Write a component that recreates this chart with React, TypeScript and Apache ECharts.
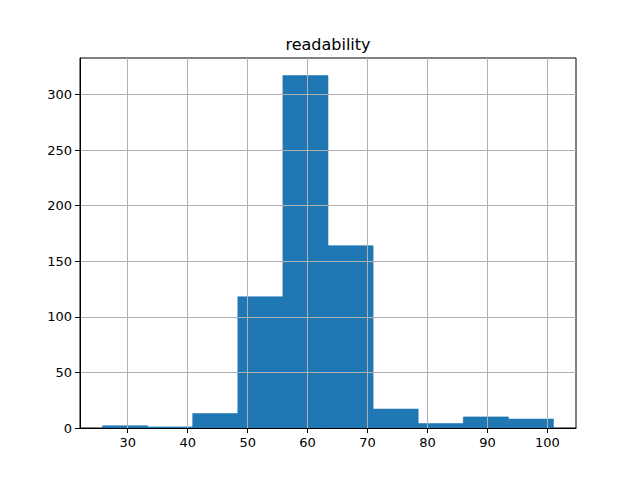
import React, { useEffect, useRef } from "react";
import * as echarts from "echarts";

const title = "readability";
const binEdges = [25.8, 33.32, 40.84, 48.36, 55.88, 63.4, 70.92, 78.44, 85.96, 93.48, 101.0];
const counts = [2, 1, 13, 118, 317, 164, 17, 4, 10, 8];
const xTicks = [30, 40, 50, 60, 70, 80, 90, 100];
const yTicks = [0, 50, 100, 150, 200, 250, 300];

export default function App() {
  const ref = useRef<HTMLDivElement>(null);
  useEffect(() => {
    document.body.style.margin = "0";
    const chart = echarts.init(ref.current!, null, { renderer: "svg" });
    const span = binEdges[binEdges.length - 1] - binEdges[0];
    const xMin = binEdges[0] - span * 0.05;
    const xMax = binEdges[binEdges.length - 1] + span * 0.05;
    const yMax = Math.max(...counts) * 1.05;
    const data = counts.map((c, i) => [binEdges[i], binEdges[i + 1], c]);
    const font = "DejaVu Sans";
    chart.setOption({
      animation: false,
      graphic: [
        {
          type: "text",
          x: 328,
          y: 44,
          style: {
            text: title,
            fontFamily: font,
            fontSize: 16,
            fill: "#000",
            textAlign: "center",
            textVerticalAlign: "middle",
          },
        },
      ],
      grid: {
        left: 80,
        right: 64,
        top: 58,
        bottom: 52,
        show: true,
        borderColor: "#000",
        borderWidth: 1,
        backgroundColor: "transparent",
      },
      xAxis: {
        type: "value",
        min: xMin,
        max: xMax,
        z: 5,
        axisLine: { show: true, onZero: false, lineStyle: { color: "#000", width: 1 } },
        axisTick: { show: true, length: 5, customValues: xTicks, lineStyle: { color: "#000" } },
        axisLabel: {
          customValues: xTicks,
          margin: 8,
          color: "#000",
          fontFamily: font,
          fontSize: 13,
        },
        splitLine: { show: true, lineStyle: { color: "#b0b0b0", width: 1 } },
      },
      yAxis: {
        type: "value",
        min: 0,
        max: yMax,
        z: 5,
        axisLine: { show: true, lineStyle: { color: "#000", width: 1 } },
        axisTick: { show: true, length: 5, customValues: yTicks, lineStyle: { color: "#000" } },
        axisLabel: {
          customValues: yTicks,
          margin: 8,
          color: "#000",
          fontFamily: font,
          fontSize: 13,
        },
        splitLine: { show: true, lineStyle: { color: "#b0b0b0", width: 1 } },
      },
      series: [
        {
          type: "custom",
          z: 1,
          data,
          encode: { x: [0, 1], y: 2 },
          renderItem: (params: any, api: any) => {
            const p0 = api.coord([api.value(0), api.value(2)]);
            const p1 = api.coord([api.value(1), 0]);
            return {
              type: "rect",
              shape: { x: p0[0], y: p0[1], width: p1[0] - p0[0], height: p1[1] - p0[1] },
              style: { fill: "#1f77b4", stroke: "#1f77b4", lineWidth: 0.6 },
            };
          },
        },
      ],
    });
    return () => chart.dispose();
  }, []);
  return <div ref={ref} style={{ width: 640, height: 480 }} />;
}
